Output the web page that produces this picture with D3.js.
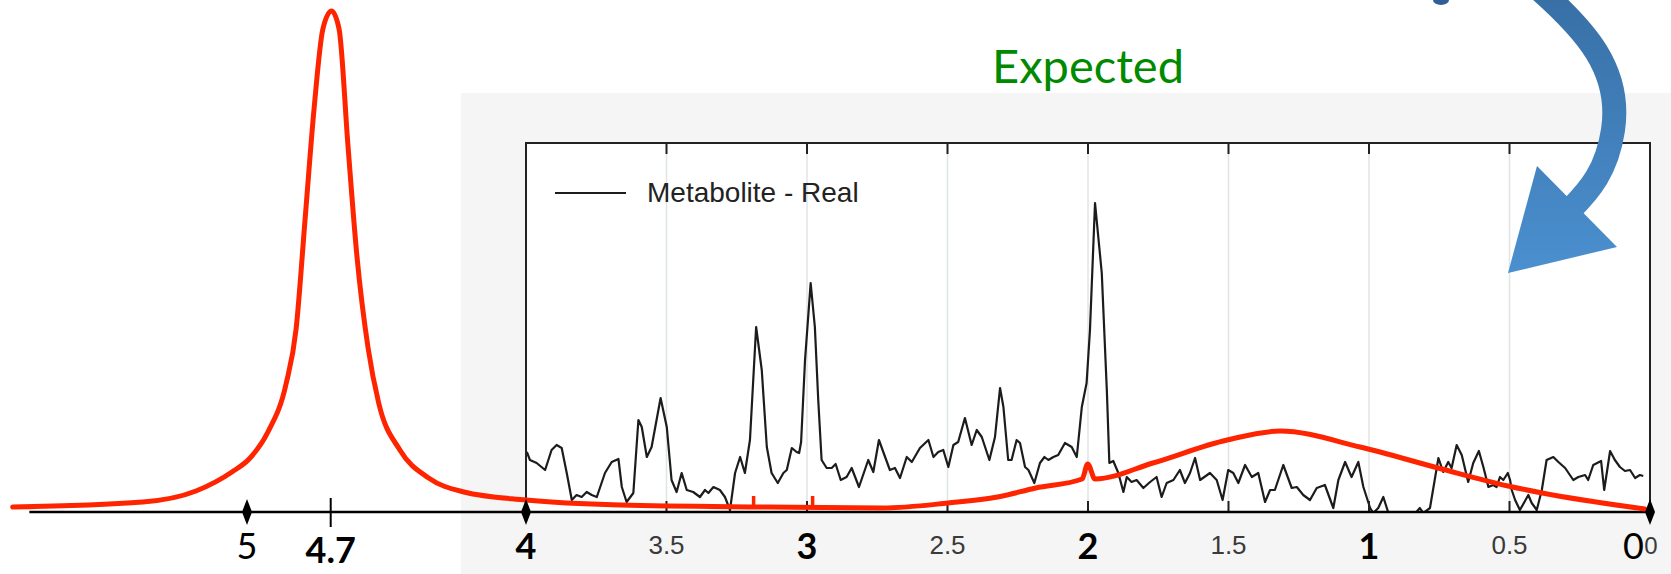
<!DOCTYPE html>
<html>
<head>
<meta charset="utf-8">
<script src="https://cdn.jsdelivr.net/npm/d3@7"></script>
<style>
  html, body { margin: 0; padding: 0; background: #fff; }
  svg { display: block; }
</style>
</head>
<body>
<div id="chart"></div>
<script>
// ---- data (ppm / intensity in arbitrary units) ----
var specPpm = [3.997,3.986,3.962,3.932,3.909,3.891,3.873,3.855,3.837,3.820,3.802,3.784,3.766,3.748,3.719,3.695,3.671,3.659,3.642,3.618,
  3.600,3.588,3.570,3.553,3.521,3.499,3.482,3.464,3.446,3.428,3.405,3.381,3.363,3.351,3.333,3.310,3.292,3.274,3.256,3.238,
  3.221,3.203,3.181,3.161,3.143,3.126,3.104,3.084,3.072,3.054,3.037,3.028,3.021,3.007,2.987,2.972,2.960,2.948,2.930,2.912,
  2.898,2.880,2.859,2.841,2.815,2.782,2.764,2.744,2.722,2.705,2.687,2.669,2.645,2.627,2.598,2.568,2.550,2.533,2.515,2.497,
  2.479,2.462,2.438,2.414,2.396,2.378,2.351,2.331,2.313,2.301,2.284,2.272,2.254,2.242,2.224,2.212,2.191,2.171,2.155,2.141,
  2.123,2.106,2.082,2.058,2.040,2.022,2.005,1.993,1.975,1.951,1.933,1.924,1.910,1.892,1.874,1.862,1.845,1.827,1.803,1.779,
  1.756,1.738,1.720,1.696,1.673,1.655,1.637,1.619,1.601,1.566,1.542,1.521,1.501,1.483,1.465,1.441,1.417,1.394,1.370,1.352,
  1.335,1.305,1.275,1.257,1.234,1.210,1.186,1.157,1.127,1.109,1.085,1.062,1.038,1.020,0.996,0.985,0.967,0.949,0.931,0.872,
  0.819,0.807,0.783,0.753,0.736,0.718,0.706,0.688,0.670,0.647,0.629,0.609,0.593,0.575,0.558,0.546,0.534,0.522,0.506,0.498,
  0.492,0.480,0.463,0.433,0.421,0.403,0.385,0.368,0.344,0.326,0.302,0.273,0.255,0.231,0.220,0.202,0.174,0.163,0.142,0.125,
  0.107,0.089,0.071,0.053,0.036,0.024];
var specVal = [60,52,49,42,62,67,64,39,12,17,15,20,17,15,39,50,53,25,10,19,
  92,85,55,65,114,85,32,20,39,22,20,15,22,19,25,22,15,2,39,55,
  39,72,185,142,65,39,29,39,42,64,60,59,70,152,229,185,112,52,44,44,
  48,32,35,44,25,52,40,72,55,42,44,34,55,50,64,72,55,60,62,45,
  67,70,94,67,82,75,52,75,124,105,52,52,72,69,45,42,29,49,55,52,
  55,57,69,65,55,105,129,182,309,239,122,49,51,39,20,35,30,32,24,30,
  35,15,29,32,42,29,39,54,32,39,32,12,42,39,29,47,35,39,10,22,
  22,47,24,25,17,12,24,27,4,32,50,35,50,25,4,-1,4,15,-1,-13,
  4,-1,4,54,40,50,44,67,57,30,49,61,45,25,27,25,35,32,39,32,
  22,12,2,17,9,2,22,52,55,50,44,32,35,37,32,47,51,22,61,52,
  45,41,42,34,37,36];

var fitPpm = [5.840,5.373,5.183,5.054,4.989,4.925,4.860,4.824,4.792,4.760,4.728,4.697,4.670,4.638,4.606,4.566,4.528,4.452,4.349,4.222,
  4.000,3.665,3.139,2.731,2.498,2.322,2.186,2.021,2.001,1.975,1.769,1.505,1.317,1.032,0.754,0.505,0.384,0.018];
var fitVal = [5,10,21,40,54,80,128,183,292,402,483,501,483,366,256,164,109,62,34,20,
  12,7,5,4,9,15,24,33,48,33,49,72,81,65,44,26,19,3];
var fitMarks = [3.19, 2.98];

var labelTicks = [3.5, 2.5, 1.5, 0.5, 0];
var gridTicks = [3.5, 3, 2.5, 2, 1.5, 1, 0.5];
var outerTicks = [5, 4.7, 4, 3, 2, 1, 0];
var boldTicks = [4.7, 4, 3, 2, 1];
var diamondTicks = [5, 4, 0];
var axisStart = 5.78;

var W = 1671, H = 574;

var svg = d3.select("#chart").append("svg")
    .attr("width", W)
    .attr("height", H);

// scales (ppm runs right-to-left)
var x = d3.scaleLinear().domain([5, 4, 0]).range([247, 526, 1650]);
var y = d3.scaleLinear().domain([0, 500]).range([512, 12]);

var frameTop = 143, frameBottom = y(0);

// grey panel of the screenshot
svg.append("rect")
    .attr("x", 461).attr("y", 93)
    .attr("width", W - 461).attr("height", H - 93)
    .attr("fill", "#f5f5f5");

// plot area
svg.append("rect")
    .attr("x", x(4)).attr("y", frameTop)
    .attr("width", x(0) - x(4)).attr("height", frameBottom - frameTop)
    .attr("fill", "#fff");

svg.selectAll(".grid")
    .data(gridTicks)
  .enter().append("line")
    .attr("class", "grid")
    .attr("x1", function(d) { return x(d); })
    .attr("x2", function(d) { return x(d); })
    .attr("y1", frameTop).attr("y2", frameBottom)
    .attr("stroke", "#dfe4e4")
    .attr("stroke-width", 1.5);

svg.append("clipPath").attr("id", "clip")
  .append("rect")
    .attr("x", x(4)).attr("y", frameTop)
    .attr("width", x(0) - x(4)).attr("height", frameBottom - frameTop);

var specData = specPpm.map(function(p, i) { return [p, specVal[i]]; });
var specLine = d3.line()
    .x(function(d) { return x(d[0]); })
    .y(function(d) { return y(d[1]); });

svg.append("path")
    .datum(specData)
    .attr("clip-path", "url(#clip)")
    .attr("d", specLine)
    .attr("fill", "none")
    .attr("stroke", "#1c1c1c")
    .attr("stroke-width", 2.2)
    .attr("stroke-linejoin", "round");

// frame border
svg.append("rect")
    .attr("x", x(4)).attr("y", frameTop)
    .attr("width", x(0) - x(4)).attr("height", frameBottom - frameTop)
    .attr("fill", "none")
    .attr("stroke", "#222")
    .attr("stroke-width", 2);

// inner ticks top and bottom
svg.selectAll(".ttick")
    .data(gridTicks)
  .enter().append("line")
    .attr("x1", function(d) { return x(d); })
    .attr("x2", function(d) { return x(d); })
    .attr("y1", frameTop).attr("y2", frameTop + 11)
    .attr("stroke", "#222").attr("stroke-width", 2);
svg.selectAll(".btick")
    .data(gridTicks)
  .enter().append("line")
    .attr("x1", function(d) { return x(d); })
    .attr("x2", function(d) { return x(d); })
    .attr("y1", frameBottom).attr("y2", frameBottom - 11)
    .attr("stroke", "#222").attr("stroke-width", 2);

// inner tick labels (integer ones sit under the bold outer labels)
svg.selectAll(".ilab")
    .data(labelTicks)
  .enter().append("text")
    .attr("x", function(d) { return d === 0 ? x(d) + 1 : x(d); })
    .attr("y", 554)
    .attr("text-anchor", "middle")
    .style("font-family", "Liberation Sans, Arial, sans-serif")
    .style("font-size", function(d) { return d === 0 ? "24px" : "26px"; })
    .attr("fill", "#3a3a3a")
    .text(function(d) { return d; });

// legend
svg.append("line")
    .attr("x1", 555).attr("x2", 626)
    .attr("y1", 193).attr("y2", 193)
    .attr("stroke", "#1c1c1c").attr("stroke-width", 2);
svg.append("text")
    .attr("x", 647).attr("y", 202)
    .style("font-family", "Liberation Sans, Arial, sans-serif")
    .style("font-size", "28px")
    .attr("fill", "#222")
    .text("Metabolite - Real");

// outer axis
svg.append("line")
    .attr("x1", x(axisStart)).attr("x2", x(0))
    .attr("y1", y(0)).attr("y2", y(0))
    .attr("stroke", "#000").attr("stroke-width", 2.5);

// fitted (expected) curve
var fitData = fitPpm.map(function(p, i) { return [p, fitVal[i]]; });
var fitLine = d3.line()
    .x(function(d) { return x(d[0]); })
    .y(function(d) { return y(d[1]); })
    .curve(d3.curveMonotoneX);

svg.append("path")
    .datum(fitData)
    .attr("d", fitLine)
    .attr("fill", "none")
    .attr("stroke", "#ff2400")
    .attr("stroke-width", 5)
    .attr("stroke-linecap", "round")
    .attr("stroke-linejoin", "round");

svg.selectAll(".fmark")
    .data(fitMarks)
  .enter().append("line")
    .attr("x1", function(d) { return x(d); })
    .attr("x2", function(d) { return x(d); })
    .attr("y1", y(4)).attr("y2", y(16))
    .attr("stroke", "#ff2400").attr("stroke-width", 3.5);

// outer diamonds + tick
svg.selectAll(".dia")
    .data(diamondTicks)
  .enter().append("path")
    .attr("d", function(d) {
      var cx = x(d), cy = y(0);
      return "M" + cx + "," + (cy - 13) + "L" + (cx + 5) + "," + cy +
             "L" + cx + "," + (cy + 13) + "L" + (cx - 5) + "," + cy + "Z";
    })
    .attr("fill", "#000");

svg.append("line")
    .attr("x1", x(4.7)).attr("x2", x(4.7))
    .attr("y1", y(0) - 14).attr("y2", y(0) + 15)
    .attr("stroke", "#000").attr("stroke-width", 2);

svg.selectAll(".olab")
    .data(outerTicks)
  .enter().append("text")
    .attr("x", function(d) { return d === 0 ? x(d) - 6 : x(d); })
    .attr("y", function(d) { return d === 4.7 ? 563 : 559; })
    .attr("text-anchor", function(d) { return d === 0 ? "end" : "middle"; })
    .style("font-family", "Lato, 'Open Sans', sans-serif")
    .style("font-size", "36px")
    .style("font-weight", function(d) { return boldTicks.indexOf(d) >= 0 ? "bold" : "normal"; })
    .attr("fill", "#000")
    .text(function(d) { return d; });

// title
svg.append("text")
    .attr("x", 992).attr("y", 83)
    .attr("textLength", 192)
    .attr("lengthAdjust", "spacingAndGlyphs")
    .style("font-family", "Lato, 'Open Sans', sans-serif")
    .style("font-size", "47px")
    .attr("fill", "#008a00")
    .text("Expected");

// curved blue arrow
var defs = svg.append("defs");
var grad = defs.append("linearGradient")
    .attr("id", "arrowGrad")
    .attr("gradientUnits", "userSpaceOnUse")
    .attr("x1", 0).attr("y1", 0).attr("x2", 0).attr("y2", 275);
grad.append("stop").attr("offset", "0%").attr("stop-color", "#3870a6");
grad.append("stop").attr("offset", "100%").attr("stop-color", "#4b90d0");

svg.append("path")
    .attr("d", "M1540,-10 C1585,30 1622,70 1613,130 C1607,170 1590,190 1570,210")
    .attr("fill", "none")
    .attr("stroke", "url(#arrowGrad)")
    .attr("stroke-width", 24);
svg.append("path")
    .attr("d", "M1537,166 L1617,247 L1508,273 Z")
    .attr("fill", "url(#arrowGrad)");
svg.append("ellipse")
    .attr("cx", 1441).attr("cy", 0)
    .attr("rx", 8).attr("ry", 5)
    .attr("fill", "#2f5f96");
</script>
</body>
</html>
